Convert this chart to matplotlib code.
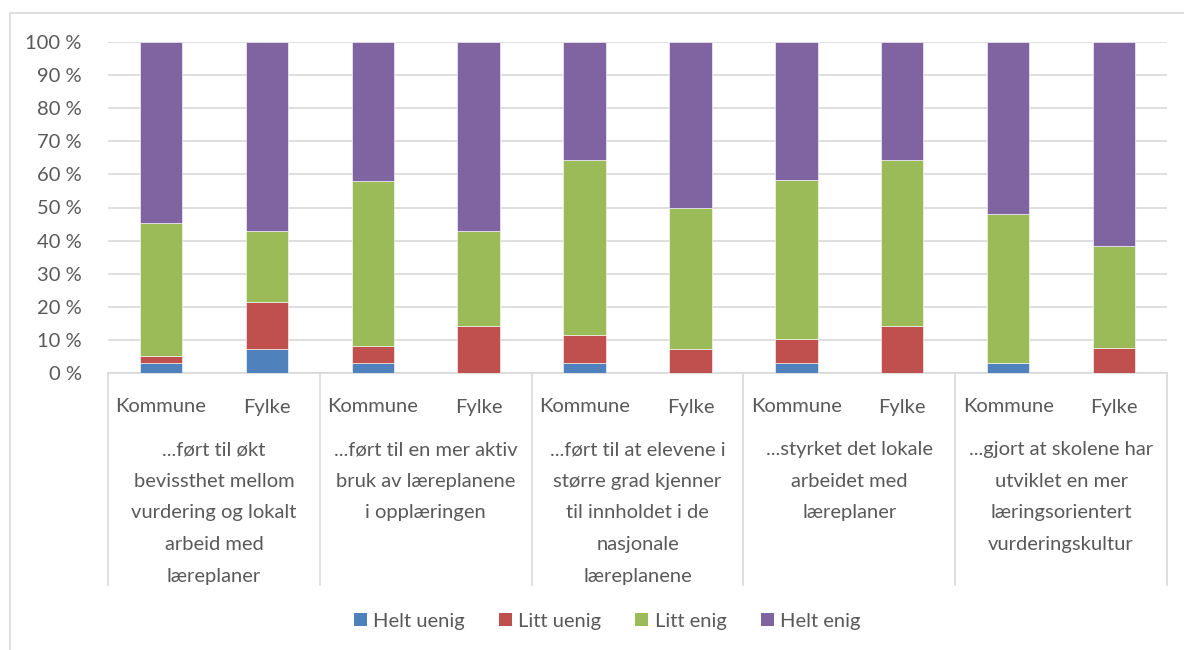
import matplotlib
matplotlib.use("Agg")
import matplotlib.pyplot as plt
from matplotlib.patches import Patch
from matplotlib.lines import Line2D
from matplotlib.ticker import FuncFormatter
import matplotlib.transforms as mtransforms

plt.rcParams['font.family'] = ['Lato', 'DejaVu Sans']

# data, per bar (Kommune / Fylke for each statement), in percent
sub_labels = ['Kommune', 'Fylke'] * 5
group_labels = [
    '...ført til økt\nbevissthet mellom\nvurdering og lokalt\narbeid med\nlæreplaner',
    '...ført til en mer aktiv\nbruk av læreplanene\ni opplæringen',
    '...ført til at elevene i\nstørre grad kjenner\ntil innholdet i de\nnasjonale\nlæreplanene',
    '...styrket det lokale\narbeidet med\nlæreplaner',
    '...gjort at skolene har\nutviklet en mer\nlæringsorientert\nvurderingskultur',
]
series_names = ['Helt uenig', 'Litt uenig', 'Litt enig', 'Helt enig']
helt_uenig = [3.0, 7.1, 3.0, 0.0, 3.0, 0.0, 3.0, 0.0, 3.0, 0.0]
litt_uenig = [2.0, 14.3, 5.1, 14.3, 8.5, 7.1, 7.4, 14.3, 0.0, 7.7]
litt_enig = [40.2, 21.5, 49.8, 28.6, 52.7, 42.9, 47.9, 50.0, 44.9, 30.8]
helt_enig = [54.8, 57.1, 42.1, 57.1, 35.8, 50.0, 41.7, 35.7, 52.1, 61.5]
colors = ['#4F81BD', '#C0504D', '#9BBB59', '#8064A2']

W, H = 1184, 650
fig = plt.figure(figsize=(W / 100, H / 100), dpi=100)
left, right, top, bottom = 108, 1167, 42, 373
ax = fig.add_axes([left / W, 1 - bottom / H, (right - left) / W, (bottom - top) / H])

# outer chart frame (only top and left edges are inside the picture)
fig.lines.append(Line2D([10 / W, 10 / W, 1], [0, 1 - 13 / H, 1 - 13 / H],
                        transform=fig.transFigure, color='#D9D9D9', linewidth=1.2))

x = list(range(len(sub_labels)))
base = [0.0] * len(x)
for name, vals, col in zip(series_names, [helt_uenig, litt_uenig, litt_enig, helt_enig], colors):
    ax.bar(x, vals, bottom=base, width=0.4, color=col, edgecolor='white', linewidth=0.4,
           label=name, zorder=3)
    base = [b + v for b, v in zip(base, vals)]

ax.set_xlim(-0.5, len(x) - 0.5)
ax.set_ylim(0, 100)
ax.set_yticks(range(0, 101, 10))
ax.yaxis.set_major_formatter(FuncFormatter(lambda v, p: '%d %%' % v))
ax.tick_params(axis='y', length=0, labelsize=14.5, labelcolor='#595959', pad=19)
ax.set_xticks([])
ax.grid(axis='y', color='#D9D9D9', linewidth=1.2, zorder=0)
for s in ['top', 'right', 'left']:
    ax.spines[s].set_visible(False)
ax.spines['bottom'].set_color('#D9D9D9')
ax.spines['bottom'].set_linewidth(1.2)

# multi-level category axis
trans = mtransforms.blended_transform_factory(ax.transData, fig.transFigure)
for b in range(6):
    xb = b * 2 - 0.5
    ax.plot([xb, xb], [1 - bottom / H, 1 - 585 / H], transform=trans, color='#D9D9D9',
            linewidth=1.2, clip_on=False)
for i, lab in enumerate(sub_labels):
    ax.text(i, 1 - 407 / H, lab, transform=trans, ha='center', va='center',
            fontsize=14.5, color='#595959')
for g, lab in enumerate(group_labels):
    ax.text(g * 2 + 0.5, 1 - 441 / H, lab, transform=trans, ha='center', va='top',
            fontsize=14.5, color='#595959', linespacing=2.05)

handles = [Patch(facecolor=c, label=n) for n, c in zip(series_names, colors)]
fig.legend(handles=handles, loc='center', bbox_to_anchor=(607 / W, 1 - 621 / H), ncol=4,
           frameon=False, fontsize=14.5, labelcolor='#595959', handlelength=0.65,
           handleheight=0.65, handletextpad=0.3, columnspacing=1.7)

fig.savefig('out.png', dpi=100)
